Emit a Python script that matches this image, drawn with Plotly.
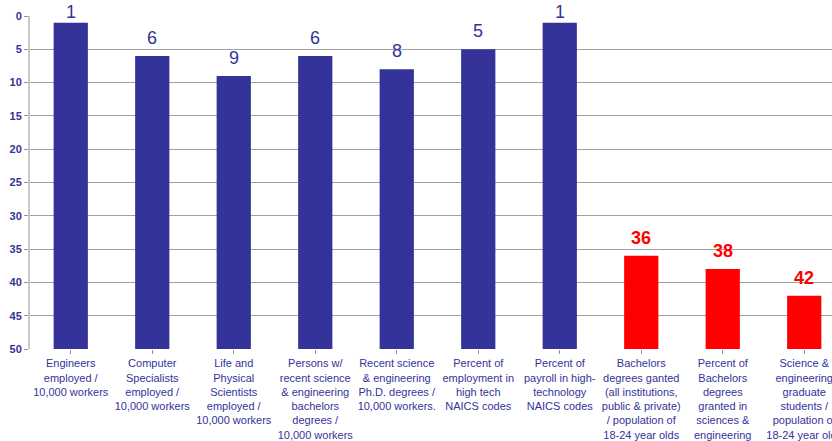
import plotly.graph_objects as go

categories = [
    "Engineers<br>employed /<br>10,000 workers",
    "Computer<br>Specialists<br>employed /<br>10,000 workers",
    "Life and<br>Physical<br>Scientists<br>employed /<br>10,000 workers",
    "Persons w/<br>recent science<br>& engineering<br>bachelors<br>degrees /<br>10,000 workers",
    "Recent science<br>& engineering<br>Ph.D. degrees /<br>10,000 workers.",
    "Percent of<br>employment in<br>high tech<br>NAICS codes",
    "Percent of<br>payroll in high-<br>technology<br>NAICS codes",
    "Bachelors<br>degrees ganted<br>(all institutions,<br>public & private)<br>/ population of<br>18-24 year olds",
    "Percent of<br>Bachelors<br>degrees<br>granted in<br>sciences &<br>engineering",
    "Science &<br>engineering<br>graduate<br>students /<br>population of<br>18-24 year olds",
]
ranks = [1, 6, 9, 6, 8, 5, 1, 36, 38, 42]
colors = ["#333399"] * 7 + ["#ff0000"] * 3
label_bold = [False] * 7 + [True] * 3

x = list(range(len(categories)))

fig = go.Figure(go.Bar(
    x=x,
    y=[r - 50 for r in ranks],
    base=[50] * len(ranks),
    marker=dict(color=colors, line=dict(width=0)),
    width=0.42,
    hoverinfo="skip",
))

for xi, r, c, b in zip(x, ranks, colors, label_bold):
    fig.add_annotation(
        x=xi, y=r, xref="x", yref="y",
        text=f"<b>{r}</b>" if b else str(r),
        showarrow=False, yanchor="bottom",
        yshift=6 if r >= 3 else -1,
        font=dict(size=18, color=c, family="Liberation Sans, Arial, sans-serif"),
    )

left, right = 30, 0
plot_w = 832 - left - right
step = 81.5
xmax = -0.5 + plot_w / step

fig.update_layout(
    width=832, height=441,
    margin=dict(l=left, r=right, t=16, b=92, autoexpand=False),
    plot_bgcolor="white", paper_bgcolor="white",
    showlegend=False,
    font=dict(family="Liberation Sans, Arial, sans-serif", color="#333399"),
)
fig.update_xaxes(
    range=[-0.5, xmax],
    automargin=False,
    tickmode="array", tickvals=x, ticktext=categories,
    tickangle=0,
    tickfont=dict(size=11, color="#333399"),
    ticklabeloverflow="allow",
    ticks="outside", tickson="boundaries", ticklen=4, tickcolor="#909090",
    showgrid=False,
    showline=False,
    zeroline=False,
)
fig.update_yaxes(
    range=[50, 0],
    automargin=False,
    tickmode="array", tickvals=list(range(0, 51, 5)),
    ticktext=[f"<b>{v}</b>" for v in range(0, 51, 5)],
    tickfont=dict(size=11, color="#333399"),
    ticks="outside", ticklen=4, tickcolor="#909090",
    showgrid=True, gridcolor="#a0a0a0", gridwidth=1,
    showline=True, linecolor="#c8c8c8", linewidth=2,
    zeroline=False,
)

fig.write_html("out.html")
